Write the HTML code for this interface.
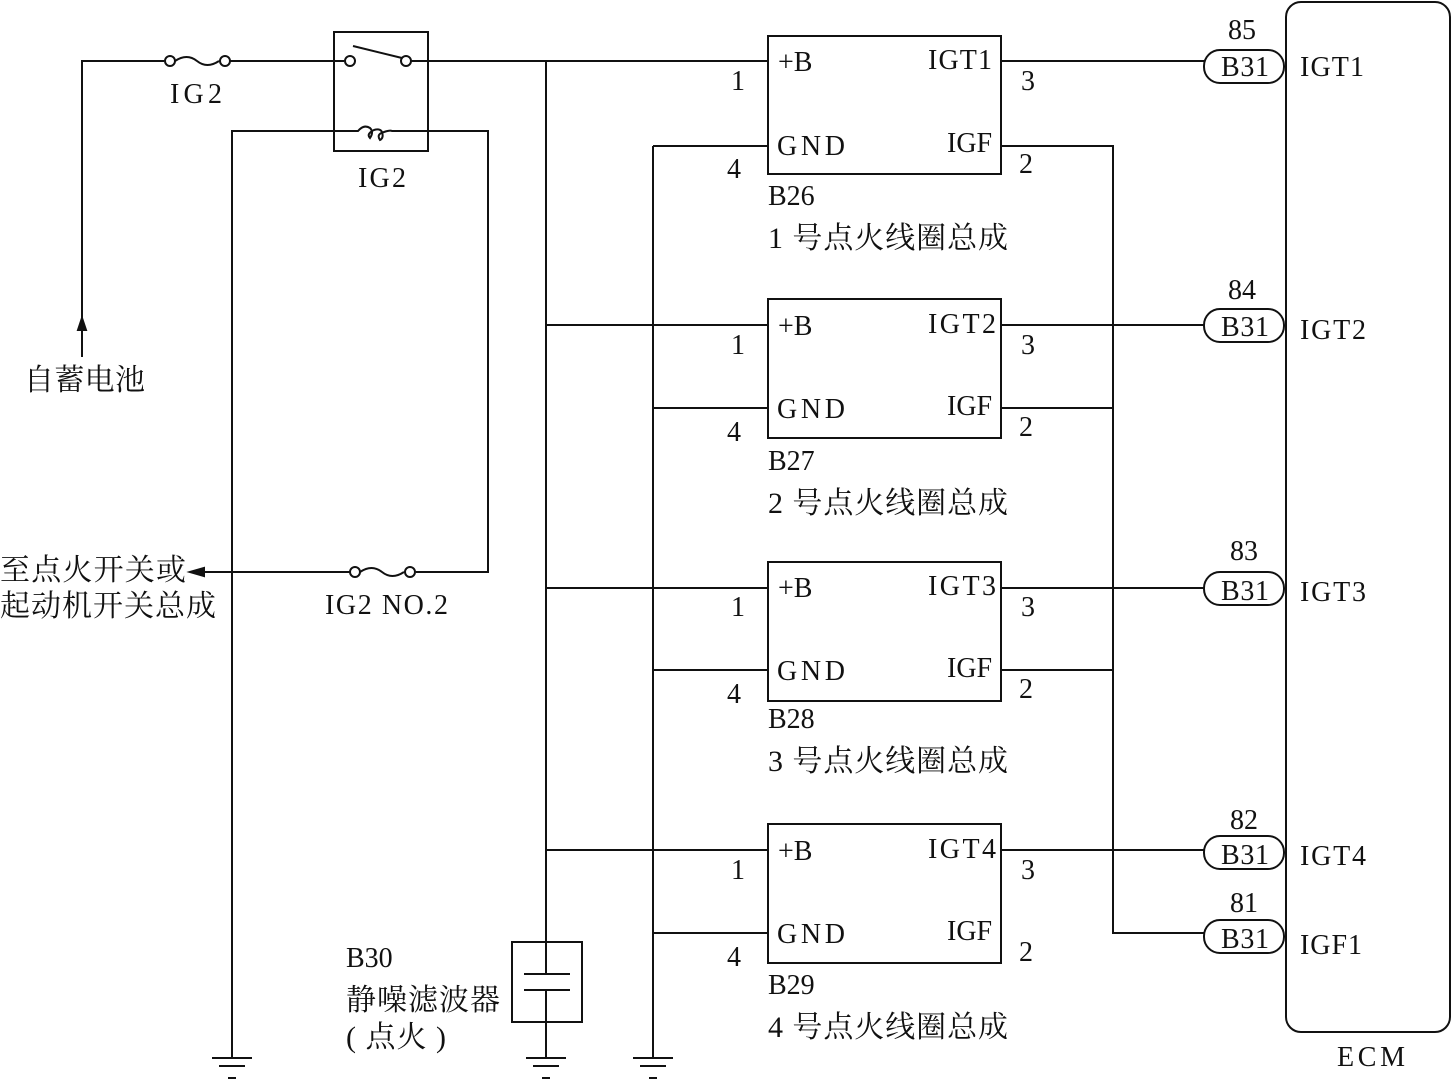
<!DOCTYPE html>
<html><head><meta charset="utf-8"><style>
body{margin:0;background:#fff}
svg{display:block}
text{font-family:"Liberation Serif","Noto Serif CJK SC",serif;fill:#111}
.c{font-size:30px}
</style></head><body>
<svg width="1452" height="1082" viewBox="0 0 1452 1082" xmlns="http://www.w3.org/2000/svg" stroke="#111" stroke-width="2" fill="none">
<path d="M82 357 V61 H164"/>
<path d="M82 318 l-4 12 h8 z" fill="#111"/>
<circle cx="170" cy="61" r="5" fill="#fff"/><path d="M175 61 q12 -8 22 0 q10 8 22 0"/><circle cx="225" cy="61" r="5" fill="#fff"/>
<path d="M230 61 H344"/>
<rect x="334" y="32" width="94" height="119"/>
<circle cx="350" cy="61" r="5" fill="#fff"/><circle cx="406" cy="61" r="5" fill="#fff"/>
<path d="M353 46 L402 58"/>
<path d="M411 61 H768"/>
<path d="M232 1058 V131 H358 q6 -7 12 -3 q4 4 0 10 q-4 -4 4 -8 q6 -2 8 2 q2 6 -2 8 q-4 -6 4 -8 q6 -2 8 -1 H488 V572 H416"/>
<circle cx="355" cy="572" r="5" fill="#fff"/><path d="M360 572 q12 -8 22 0 q10 8 22 0"/><circle cx="410" cy="572" r="5" fill="#fff"/>
<path d="M350 572 H200"/>
<path d="M190 572 l14 -4 v8 z" fill="#111"/>
<path d="M546 61 V942 M546 1022 V1058"/>
<rect x="512" y="942" width="70" height="80"/>
<path d="M546 942 V974 M524 974 H570 M524 990 H570 M546 990 V1022"/>
<path d="M653 146 V1058"/>
<path d="M546 325 H768 M546 588 H768 M546 850 H768"/>
<path d="M653 146 H768 M653 408 H768 M653 670 H768 M653 933 H768"/>
<path d="M212 1058 H252 M219 1066 H245 M228 1078 H236"/>
<path d="M526 1058 H566 M533 1066 H559 M542 1078 H550"/>
<path d="M633 1058 H673 M640 1066 H666 M649 1078 H657"/>
<rect x="768" y="36" width="233" height="138"/>
<rect x="768" y="299" width="233" height="139"/>
<rect x="768" y="562" width="233" height="139"/>
<rect x="768" y="824" width="233" height="139"/>
<path d="M1001 61 H1204 M1001 325 H1204 M1001 588 H1204 M1001 850 H1204"/>
<path d="M1001 146 H1113 V933 H1204 M1001 408 H1113 M1001 670 H1113"/>
<rect x="1204" y="50" width="80" height="33" rx="16"/>
<rect x="1204" y="309" width="80" height="33" rx="16"/>
<rect x="1204" y="572" width="80" height="33" rx="16"/>
<rect x="1204" y="836" width="80" height="33" rx="16"/>
<rect x="1204" y="920" width="80" height="33" rx="16"/>
<rect x="1286" y="2" width="164" height="1030" rx="15"/>
<g stroke="none" fill="#111" font-size="28">
<text x="170" y="103" textLength="52">IG2</text>
<text x="358" y="187" textLength="48">IG2</text>
<text x="24" y="390" class="c" textLength="121">自蓄电池</text>
<text x="0" y="580" class="c" textLength="186">至点火开关或</text>
<text x="0" y="616" class="c" textLength="216">起动机开关总成</text>
<text x="325" y="614" textLength="123">IG2 NO.2</text>
<text x="346" y="967">B30</text>
<text x="346" y="1010" class="c" textLength="154">静噪滤波器</text>
<text x="346" y="1047" class="c" textLength="100">( 点火 )</text>
<text x="778" y="71">+B</text><text x="928" y="69" textLength="64">IGT1</text>
<text x="777" y="155" textLength="68">GND</text><text x="947" y="152">IGF</text>
<text x="731" y="90">1</text><text x="727" y="178">4</text>
<text x="1021" y="90">3</text><text x="1019" y="173">2</text>
<text x="768" y="205">B26</text><text x="768" y="248" class="c" textLength="240">1 号点火线圈总成</text>
<text x="778" y="335">+B</text><text x="928" y="333" textLength="68">IGT2</text>
<text x="777" y="418" textLength="68">GND</text><text x="947" y="415">IGF</text>
<text x="731" y="354">1</text><text x="727" y="441">4</text>
<text x="1021" y="354">3</text><text x="1019" y="436">2</text>
<text x="768" y="470">B27</text><text x="768" y="513" class="c" textLength="240">2 号点火线圈总成</text>
<text x="778" y="597">+B</text><text x="928" y="595" textLength="68">IGT3</text>
<text x="777" y="680" textLength="68">GND</text><text x="947" y="677">IGF</text>
<text x="731" y="616">1</text><text x="727" y="703">4</text>
<text x="1021" y="616">3</text><text x="1019" y="698">2</text>
<text x="768" y="728">B28</text><text x="768" y="771" class="c" textLength="240">3 号点火线圈总成</text>
<text x="778" y="860">+B</text><text x="928" y="858" textLength="68">IGT4</text>
<text x="777" y="943" textLength="68">GND</text><text x="947" y="940">IGF</text>
<text x="731" y="879">1</text><text x="727" y="966">4</text>
<text x="1021" y="879">3</text><text x="1019" y="961">2</text>
<text x="768" y="994">B29</text><text x="768" y="1037" class="c" textLength="240">4 号点火线圈总成</text>
<text x="1228" y="39">85</text><text x="1221" y="76" textLength="48">B31</text><text x="1300" y="76" textLength="64">IGT1</text>
<text x="1228" y="299">84</text><text x="1221" y="336" textLength="48">B31</text><text x="1300" y="339" textLength="66">IGT2</text>
<text x="1230" y="560">83</text><text x="1221" y="600" textLength="48">B31</text><text x="1300" y="601" textLength="66">IGT3</text>
<text x="1230" y="829">82</text><text x="1221" y="864" textLength="48">B31</text><text x="1300" y="865" textLength="66">IGT4</text>
<text x="1230" y="912">81</text><text x="1221" y="948" textLength="48">B31</text><text x="1300" y="954" textLength="62">IGF1</text>
<text x="1337" y="1066" textLength="68">ECM</text>
</g>
</svg>
</body></html>
